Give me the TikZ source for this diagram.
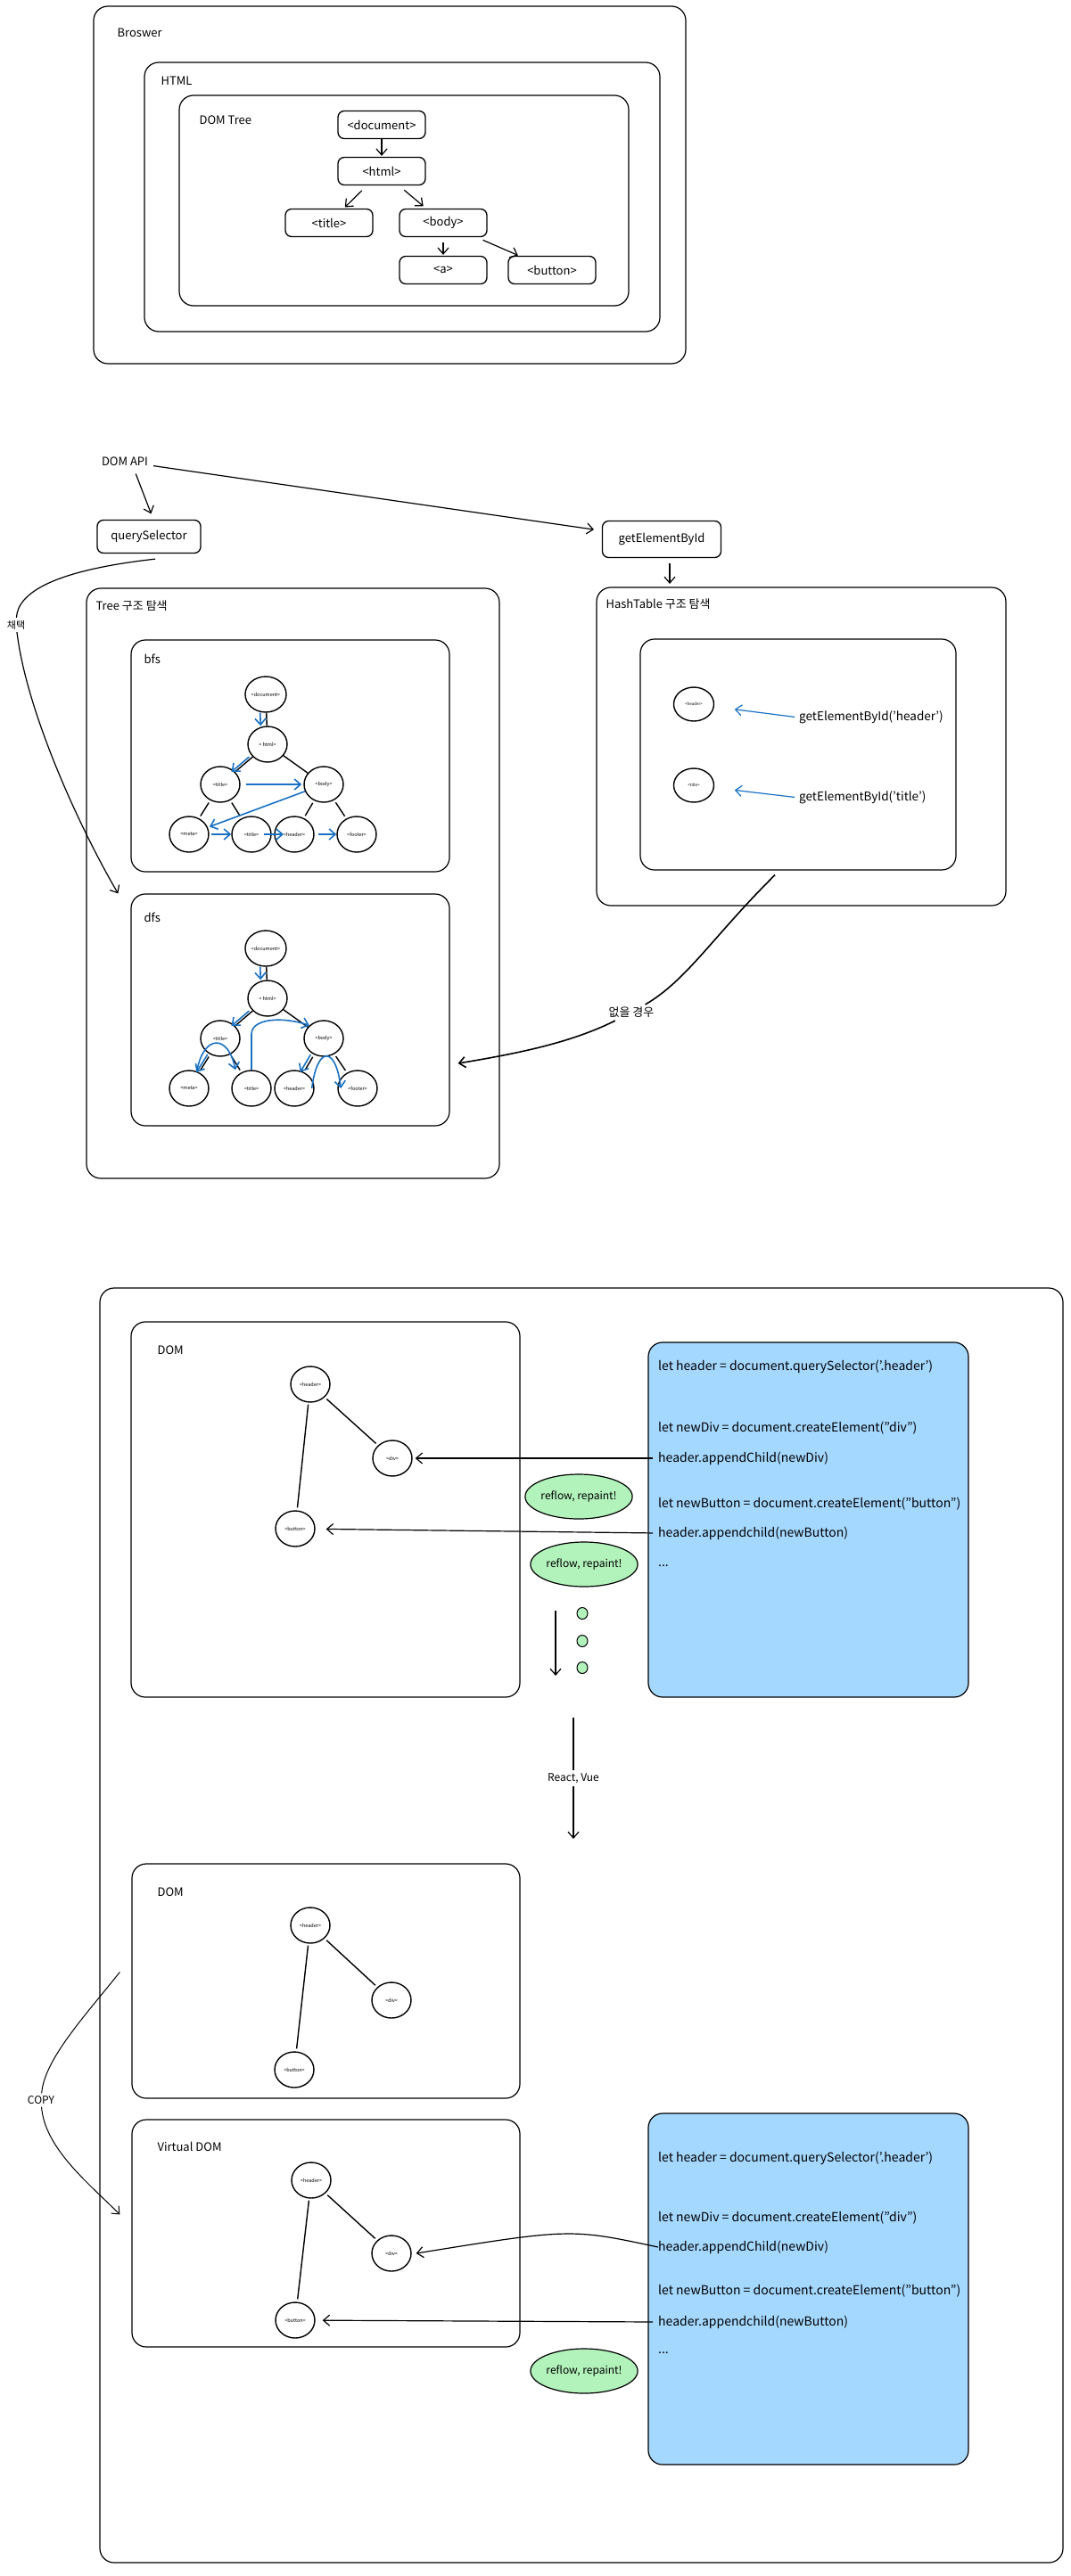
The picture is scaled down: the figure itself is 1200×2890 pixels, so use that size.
\documentclass[tikz,border=0pt]{standalone}
\usepackage{fontspec}
\setmainfont{Noto Sans CJK KR}
\usetikzlibrary{arrows.meta, positioning, shapes.geometric}

\definecolor{exblue}{HTML}{1971C2}
\definecolor{codefill}{HTML}{A5D8FF}
\definecolor{flowfill}{HTML}{B2F2BB}

\tikzset{
    frame/.style={draw, line width=1.2pt, rounded corners=16pt},
    tag/.style={draw, line width=1.3pt, rounded corners=7pt, minimum width=98pt, minimum height=31pt, font=\fontsize{13}{15}\selectfont},
    lbl/.style={anchor=west, inner sep=0pt, font=\fontsize{13}{15}\selectfont},
    dnode/.style={draw, ellipse, line width=1.4pt, minimum width=44pt, minimum height=40pt, inner sep=0pt, font=\fontsize{5.5}{6}\selectfont},
    tredge/.style={line width=1.4pt},
    arr/.style={->, line width=1.2pt},
    bluearr/.style={->, draw=exblue, line width=1.6pt},
    flow/.style={draw, ellipse, fill=flowfill, line width=1.2pt, minimum width=120pt, minimum height=50pt, inner sep=0pt, font=\fontsize{12}{14}\selectfont},
    codebox/.style={draw, fill=codefill, line width=1.2pt, rounded corners=16pt},
    code/.style={anchor=west, inner sep=0pt, font=\fontsize{14}{16}\selectfont},
    dot/.style={draw, ellipse, fill=flowfill, line width=1pt, minimum width=12pt, minimum height=13pt, inner sep=0pt}
}

\begin{document}
\begin{tikzpicture}[x=1pt, y=-1pt, >={Straight Barb[length=7pt,width=12pt]}]
    \useasboundingbox (0,0) rectangle (1200,2890);

    % browser / html / dom tree
    \node[frame, minimum width=664pt, minimum height=401pt] (browser) at (437,207.5) {};
    \node[frame, minimum width=578pt, minimum height=302pt] (html) at (451,221) {};
    \node[frame, minimum width=504pt, minimum height=236pt] (domtree) at (453,225) {};
    \node[lbl] (browserlbl) at ([shift={(27,30)}]browser.north west) {Broswer};
    \node[lbl] (htmllbl) at ([shift={(19,21)}]html.north west) {HTML};
    \node[lbl] (domtreelbl) at ([shift={(23,28)}]domtree.north west) {DOM Tree};

    \node[tag] (tdoc) at (428,140) {<document>};
    \node[tag] (thtml) at (428,192) {<html>};
    \node[tag] (ttitle) at (369,250) {<title>};
    \node[tag] (tbody) at (497,250) {<body>};
    \node[tag] (ta) at (497,303) {<a>};
    \node[tag] (tbutton) at (619,303) {<button>};

    \draw[arr, shorten >=1pt] (tdoc) -- (thtml);
    \draw[arr, shorten <=8pt, shorten >=2pt] (thtml) -- (ttitle);
    \draw[arr, shorten <=8pt, shorten >=4pt] (thtml) -- (tbody);
    \draw[arr, shorten <=6pt, shorten >=1pt] (tbody) -- (ta);
    \draw[arr, shorten <=8pt, shorten >=1pt] (tbody) -- (tbutton);

    % dom api
    \node[lbl, anchor=center] (api) at (140,518) {DOM API};
    \node[tag, minimum width=116pt, minimum height=37pt] (qs) at (167,602) {querySelector};
    \node[tag, minimum width=133pt, minimum height=41pt] (gebi) at (742,605) {getElementById};

    \draw[arr, shorten <=9pt, shorten >=7pt] ([xshift=9pt]api.south) -- ([xshift=5pt]qs.north);
    \draw[arr, shorten <=6pt, shorten >=9pt] (api) -- (gebi);

    % tree search
    \node[frame, minimum width=463pt, minimum height=662pt] (treebox) at (328.5,991) {};
    \node[lbl] (treelbl) at ([shift={(11,20)}]treebox.north west) {Tree 구조 탐색};
    \node[frame, minimum width=357pt, minimum height=260pt] (bfsbox) at (325.5,848) {};
    \node[lbl] (bfslbl) at ([shift={(15,22)}]bfsbox.north west) {bfs};
    \node[frame, minimum width=357pt, minimum height=260pt] (dfsbox) at (325.5,1133) {};
    \node[lbl] (dfslbl) at ([shift={(15,27)}]dfsbox.north west) {dfs};

    % bfs tree
    \node[dnode] (bdoc) at (298,779) {<document>};
    \node[dnode] (bhtml) at (300,835) {< html>};
    \node[dnode] (btitle) at (247,880) {<title>};
    \node[dnode] (bbody) at (363,880) {<body>};
    \node[dnode] (bmeta) at (212,936) {<meta>};
    \node[dnode] (btitle2) at (282,936) {<title>};
    \node[dnode] (bheader) at (330,936) {<header>};
    \node[dnode] (bfooter) at (400,936) {<footer>};

    \draw[tredge] (bdoc) -- (bhtml);
    \draw[tredge] (bhtml) -- (btitle);
    \draw[tredge] (bhtml) -- (bbody);
    \draw[tredge, shorten <=3pt, shorten >=3pt] (btitle) -- (bmeta);
    \draw[tredge, shorten <=3pt, shorten >=3pt] (btitle) -- (btitle2);
    \draw[tredge, shorten <=3pt, shorten >=3pt] (bbody) -- (bheader);
    \draw[tredge, shorten <=3pt, shorten >=3pt] (bbody) -- (bfooter);

    \draw[bluearr, transform canvas={xshift=-7pt}] (bdoc) -- (bhtml);
    \draw[bluearr, transform canvas={xshift=-4pt}] (bhtml) -- (btitle);
    \draw[bluearr, shorten <=6pt, shorten >=2pt] (btitle) -- (bbody);
    \draw[bluearr, shorten >=2pt] (bbody) -- (bmeta);
    \draw[bluearr, shorten <=2pt] (bmeta) -- (btitle2);
    \draw[bluearr] ([xshift=14pt]btitle2.center) -- ([xshift=-12pt]bheader.center);
    \draw[bluearr, shorten <=4pt] (bheader) -- (bfooter);

    % dfs tree
    \node[dnode] (ddoc) at (298,1064) {<document>};
    \node[dnode] (dhtml) at (300,1120) {< html>};
    \node[dnode] (dtitle) at (247,1165) {<title>};
    \node[dnode] (dbody) at (363,1165) {<body>};
    \node[dnode] (dmeta) at (212,1221) {<meta>};
    \node[dnode] (dtitle2) at (282,1221) {<title>};
    \node[dnode] (dheader) at (330,1221) {<header>};
    \node[dnode] (dfooter) at (401,1221) {<footer>};

    \draw[tredge] (ddoc) -- (dhtml);
    \draw[tredge] (dhtml) -- (dtitle);
    \draw[tredge] (dhtml) -- (dbody);
    \draw[tredge, shorten <=3pt, shorten >=3pt] (dtitle) -- (dmeta);
    \draw[tredge, shorten <=3pt, shorten >=3pt] (dtitle) -- (dtitle2);
    \draw[tredge, shorten <=3pt, shorten >=3pt] (dbody) -- (dheader);
    \draw[tredge, shorten <=3pt, shorten >=3pt] (dbody) -- (dfooter);

    \draw[bluearr, transform canvas={xshift=-7pt}] (ddoc) -- (dhtml);
    \draw[bluearr, transform canvas={xshift=-4pt}] (dhtml) -- (dtitle);
    \draw[bluearr, transform canvas={xshift=-3pt}] (dtitle) -- (dmeta);
    \draw[bluearr] ([xshift=9pt]dmeta.north) .. controls +(8,-40) and +(-8,-40) .. ([xshift=-18pt]dtitle2.north);
    \draw[bluearr] (dtitle2.north) -- ++(0,-40) .. controls +(0,-18) and +(-30,-10) .. (dbody.north west);
    \draw[bluearr, transform canvas={xshift=-4pt}] (dbody) -- (dheader);
    \draw[bluearr] ([xshift=-3pt]dheader.east) .. controls +(6,-48) and +(-6,-48) .. ([xshift=4pt]dfooter.west);

    % hashtable search
    \draw[arr, shorten <=6pt, shorten >=4pt] ([xshift=9pt]gebi.south) -- ([xshift=9pt]gebi.south |- 0,659);
    \node[frame, minimum width=459pt, minimum height=357pt] (hashbox) at (898.5,837.5) {};
    \node[lbl] (hashlbl) at ([shift={(11,19)}]hashbox.north west) {HashTable 구조 탐색};
    \node[frame, minimum width=354pt, minimum height=259pt] (hashin) at (895,846.5) {};
    \node[dnode, minimum width=45pt, minimum height=38pt, font=\fontsize{4.5}{5}\selectfont] (hheader) at (778,790) {<header>};
    \node[dnode, minimum width=45pt, minimum height=38pt, font=\fontsize{4.5}{5}\selectfont] (htitle) at (778,881) {<title>};
    \node[lbl, font=\fontsize{13.5}{15}\selectfont] (hheadertxt) at (896,805) {getElementById('header')};
    \node[lbl, font=\fontsize{13.5}{15}\selectfont] (htitletxt) at (896,895) {getElementById('title')};
    \draw[bluearr, line width=1.2pt, shorten <=5pt, shorten >=23pt] (hheadertxt.west) -- (hheader);
    \draw[bluearr, line width=1.2pt, shorten <=5pt, shorten >=23pt] (htitletxt.west) -- (htitle);

    % adopt / fallback
    \node[lbl, anchor=center, font=\fontsize{11}{13}\selectfont, inner sep=3pt] (adopt) at (18,701) {채택};
    \draw[arr] ([shift={(7,6)}]qs.south) .. controls (60,640) and (20,665) .. (adopt) .. controls (30,800) and (90,930) .. ([xshift=-14pt]dfsbox.north west);
    \node[lbl, anchor=center, inner sep=3pt] (nomatch) at (708,1136) {없을 경우};
    \draw[arr, line width=1.6pt] ([shift={(-26,5)}]hashin.south) .. controls (800,1050) and (770,1100) .. (nomatch) .. controls (640,1170) and (580,1182) .. ([shift={(9,60)}]dfsbox.east);

    % rendering section
    \node[frame, minimum width=1080pt, minimum height=1430pt] (outer) at (652,2160) {};

    \node[frame, minimum width=436pt, minimum height=421pt] (dombox1) at (365,1693.5) {};
    \node[lbl] (domlbl1) at ([shift={(30,32)}]dombox1.north west) {DOM};
    \node[dnode] (rhead) at (348,1553) {<header>};
    \node[dnode] (rdiv) at (440,1636) {<div>};
    \node[dnode] (rbtn) at (331,1715) {<button>};
    \draw[tredge, shorten <=3pt, shorten >=3pt] (rhead) -- (rdiv);
    \draw[tredge, shorten <=2pt, shorten >=3pt] (rhead) -- (rbtn);

    \node[codebox, minimum width=359pt, minimum height=398pt] (codebox1) at (906.5,1705) {};
    \node[code] (ca1) at (738,1533) {let header = document.querySelector('.header')};
    \node[code] (ca2) at (738,1602) {let newDiv = document.createElement("div")};
    \node[code] (ca3) at (738,1636) {header.appendChild(newDiv)};
    \node[code] (ca4) at (738,1687) {let newButton = document.createElement("button")};
    \node[code] (ca5) at (738,1720) {header.appendchild(newButton)};
    \node[code] (ca6) at (738,1757) {...};
    \draw[arr, shorten <=6pt, shorten >=3pt] (ca3.west) -- (rdiv);
    \draw[arr, shorten <=6pt, shorten >=12pt] (ca5.west) -- (rbtn);

    \node[flow] (flow1) at (649,1679) {reflow, repaint!};
    \node[flow] (flow2) at (655,1755) {reflow, repaint!};

    \coordinate (waittop) at (623,1807);
    \coordinate (waitbot) at (623,1880);
    \draw[arr] (waittop) -- (waitbot);
    \node[dot] (dot1) at (653,1810) {};
    \node[dot] (dot2) at (653,1841) {};
    \node[dot] (dot3) at (653,1871) {};

    \coordinate (rvtop) at (643,1927);
    \coordinate (rvbot) at (643,2063);
    \draw[arr] (rvtop) -- (rvbot) node[midway, fill=white, inner sep=3pt, font=\fontsize{12}{14}\selectfont] (rvlbl) {React, Vue};

    \node[frame, minimum width=435pt, minimum height=263pt] (dombox2) at (365.5,2222.5) {};
    \node[lbl] (domlbl2) at ([shift={(29,32)}]dombox2.north west) {DOM};
    \node[dnode] (shead) at (348,2160) {<header>};
    \node[dnode] (sdiv) at (439,2244) {<div>};
    \node[dnode] (sbtn) at (330,2322) {<button>};
    \draw[tredge, shorten <=3pt, shorten >=3pt] (shead) -- (sdiv);
    \draw[tredge, shorten <=2pt, shorten >=3pt] (shead) -- (sbtn);

    \node[frame, minimum width=435pt, minimum height=255pt] (vdom) at (365.5,2505.5) {};
    \node[lbl] (vdomlbl) at ([shift={(29,31)}]vdom.north west) {Virtual DOM};
    \node[dnode] (vhead) at (349,2446) {<header>};
    \node[dnode] (vdiv) at (439,2528) {<div>};
    \node[dnode] (vbtn) at (331,2603) {<button>};
    \draw[tredge, shorten <=3pt, shorten >=3pt] (vhead) -- (vdiv);
    \draw[tredge, shorten <=2pt, shorten >=3pt] (vhead) -- (vbtn);

    \node[lbl, anchor=center, inner sep=3pt, font=\fontsize{12}{14}\selectfont] (copy) at (46,2356) {COPY};
    \draw[arr, line width=1pt] ([shift={(-13,122)}]dombox2.north west) .. controls (95,2262) and (50,2310) .. (copy) .. controls (50,2410) and (100,2450) .. ([shift={(-13,107)}]vdom.north west);

    \node[codebox, minimum width=359pt, minimum height=394pt] (codebox2) at (906.5,2568) {};
    \node[code] (cb1) at (738,2421) {let header = document.querySelector('.header')};
    \node[code] (cb2) at (738,2488) {let newDiv = document.createElement("div")};
    \node[code] (cb3) at (738,2521) {header.appendChild(newDiv)};
    \node[code] (cb4) at (738,2570) {let newButton = document.createElement("button")};
    \node[code] (cb5) at (738,2605) {header.appendchild(newButton)};
    \node[code] (cb6) at (738,2640) {...};
    \draw[arr] (cb3.west) .. controls (640,2500) .. ([xshift=5pt]vdiv.east);
    \draw[arr, shorten <=6pt, shorten >=8pt] (cb5.west) -- (vbtn);

    \node[flow] (flow3) at (655,2660) {reflow, repaint!};
\end{tikzpicture}
\end{document}
